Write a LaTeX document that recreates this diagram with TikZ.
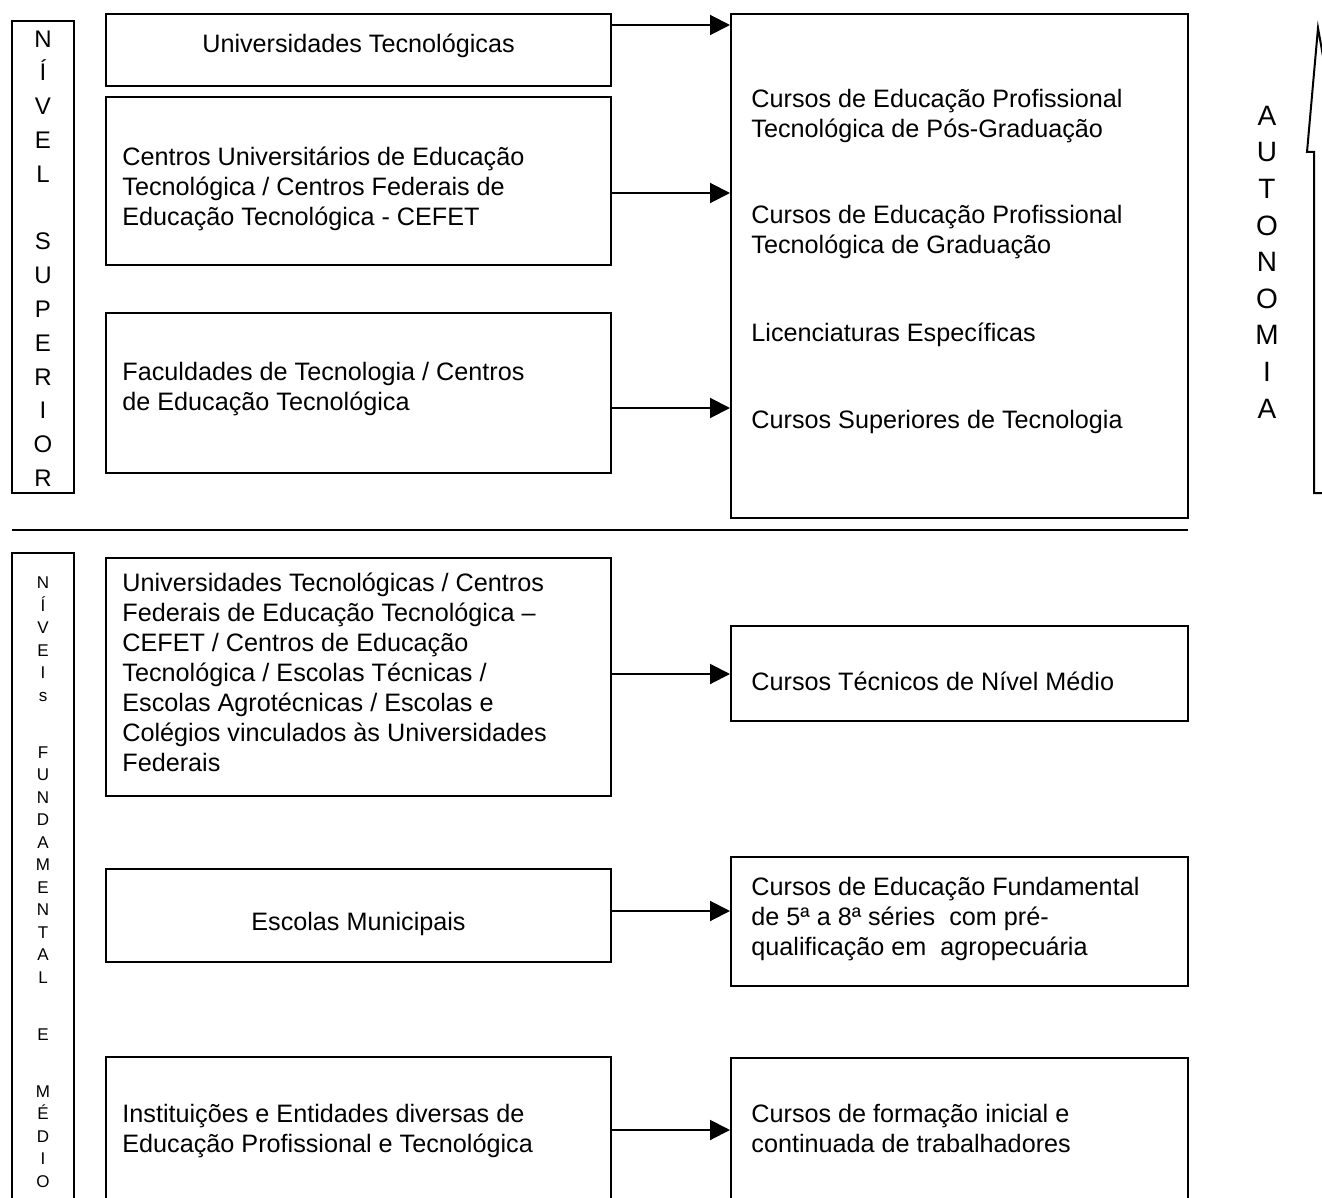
\documentclass[tikz,border=0pt]{standalone}
\usepackage{fontspec}
\setmainfont{Liberation Sans}
\usetikzlibrary{arrows.meta}
\begin{document}
\begin{tikzpicture}[x=0.5pt, y=-0.5pt, >={Triangle[length=10pt,width=10pt]}, font=\fontsize{12.6}{15}\selectfont]
        \tikzstyle{caixa} = [draw=black, line width=1pt, inner sep=0pt]
        \tikzstyle{esq} = [caixa, minimum width=252.5pt]
        \tikzstyle{dir} = [caixa, minimum width=228.5pt]
        \tikzstyle{nivel} = [caixa, minimum width=31pt, align=center]
        \tikzstyle{texto} = [align=left, anchor=west, inner sep=0pt]
        \tikzstyle{seta} = [->, line width=1pt]
        \useasboundingbox (0,0) rectangle (1322,1198);
        \clip (0,0) rectangle (1322,1198);

        % nivel superior
        \node[nivel, minimum height=236pt] (sup) at (43,257) {};
        \node[align=center, inner sep=0pt, font=\fontsize{12}{16.9}\selectfont] (supt) at (43,258.5) {N\\Í\\V\\E\\L\\[16.9pt]S\\U\\P\\E\\R\\I\\O\\R};
        \node[esq, minimum height=36pt] (ut) at (358.5,50) {};
        \node[esq, minimum height=84pt] (cu) at (358.5,181) {};
        \node[esq, minimum height=80pt] (ft) at (358.5,393) {};
        \node[caixa, minimum width=228.5pt, minimum height=252pt] (cursos) at (959.5,266) {};

        \node[inner sep=0pt] (utt) at (358.5,46) {Universidades Tecnológicas};
        \node[texto] (cut) at (122,188.5) {Centros Universitários de Educação\\Tecnológica / Centros Federais de\\Educação Tecnológica - CEFET};
        \node[texto] (ftt) at (122,389) {Faculdades de Tecnologia / Centros\\de Educação Tecnológica};
        \node[texto] (pos) at (751,116.5) {Cursos de Educação Profissional\\Tecnológica de Pós-Graduação};
        \node[texto] (grad) at (751,232.5) {Cursos de Educação Profissional\\Tecnológica de Graduação};
        \node[texto] (lic) at (751,335) {Licenciaturas Específicas};
        \node[texto] (cst) at (751,422) {Cursos Superiores de Tecnologia};

        % autonomia
        \draw[line width=1pt] (1340,493) -- (1314,493) -- (1314,152) -- (1307,152) -- (1318,28) -- (1329,90);
        \node[font=\fontsize{14}{18.3}\selectfont, align=center] (aut) at (1267,262) {A\\U\\T\\O\\N\\O\\M\\I\\A};

        \draw[line width=1pt] (12,530) -- (1188,530);

        % niveis fundamental e medio
        \node[nivel, minimum height=329pt, font=\fontsize{8.5}{11.25}\selectfont] (fm) at (43,882) {N\\Í\\V\\E\\I\\s\\[17.25pt]F\\U\\N\\D\\A\\M\\E\\N\\T\\A\\L\\[17.25pt]E\\[17.25pt]M\\É\\D\\I\\O};
        \node[esq, minimum height=119pt] (ue) at (358.5,677) {};
        \node[dir, minimum height=47.5pt] (ct) at (959.5,673.5) {};
        \node[esq, minimum height=46.5pt] (em) at (358.5,915.5) {};
        \node[dir, minimum height=64.5pt] (cf) at (959.5,921.5) {};
        \node[esq, minimum height=73pt] (ie) at (358.5,1130) {};
        \node[dir, minimum height=73pt] (cfi) at (959.5,1130.5) {};

        \node[texto] (uet) at (122,672.5) {Universidades Tecnológicas / Centros\\Federais de Educação Tecnológica --\\CEFET / Centros de Educação\\Tecnológica / Escolas Técnicas /\\Escolas Agrotécnicas / Escolas e\\Colégios vinculados às Universidades\\Federais};
        \node[texto] (ctt) at (751,681) {Cursos Técnicos de Nível Médio};
        \node[inner sep=0pt] (emt) at (358.5,924) {Escolas Municipais};
        \node[texto] (cft) at (751,919.5) {Cursos de Educação Fundamental\\de 5ª a 8ª séries~ com pré-\\qualificação em~ agropecuária};
        \node[texto] (iet) at (122,1131) {Instituições e Entidades diversas de\\Educação Profissional e Tecnológica};
        \node[texto] (cfit) at (751,1128) {Cursos de formação inicial e\\continuada de trabalhadores};

        \path[seta]
                (ut.east |- 0,25) edge (cursos.west |- 0,25)
                (cu.east |- 0,193) edge (cursos.west |- 0,193)
                (ft.east |- 0,408) edge (cursos.west |- 0,408)
                (ue.east |- 0,674) edge (ct.west |- 0,674)
                (em.east |- 0,911) edge (cf.west |- 0,911)
                (ie.east |- 0,1130) edge (cfi.west |- 0,1130);
\end{tikzpicture}
\end{document}
